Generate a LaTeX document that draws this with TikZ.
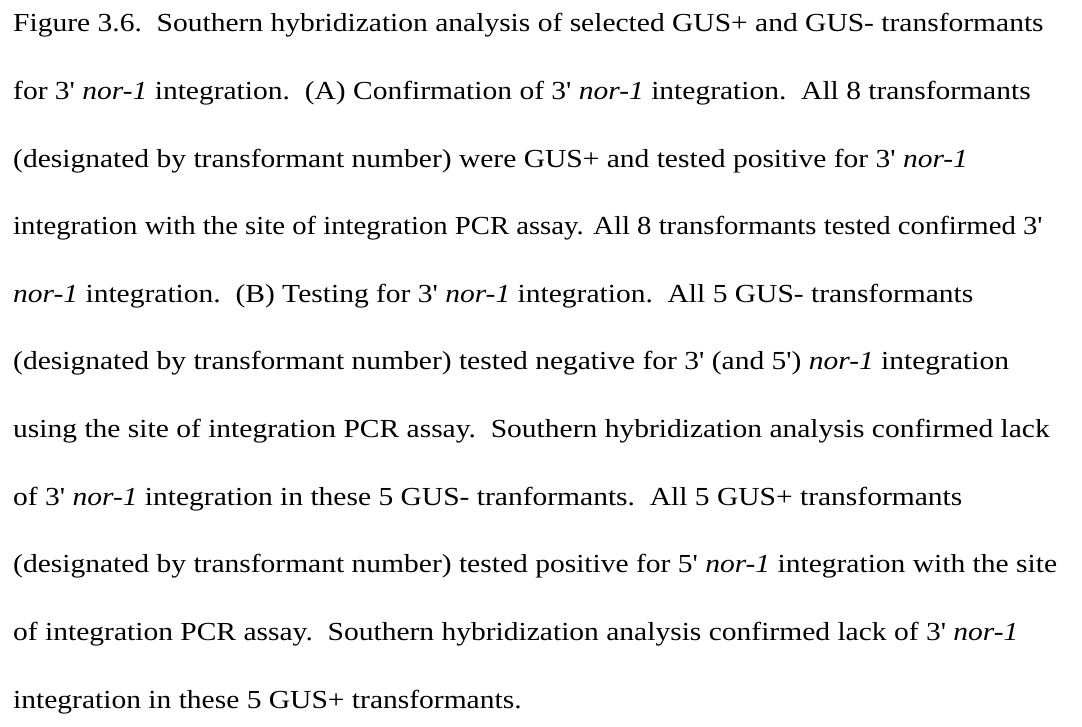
\documentclass[tikz,border=0pt]{standalone}
\usepackage{fontspec}
\setmainfont{Liberation Serif}
\newcommand\ap{\textquotesingle}
\newcommand\nor{\textit{nor-1}}
\newcommand\dsp{\ \ }
\newcommand\wide[2][1.135]{\scalebox{#1}[1]{#2}}
\begin{document}
\begin{tikzpicture}[x=1pt,y=1pt,
  capline/.style={anchor=base west, inner sep=0pt, font=\fontsize{26}{30}\selectfont}]
\useasboundingbox[fill=white] (0,0) rectangle (1082,-727);
\node[capline] (l1)  at (13,-32)    {\wide{Figure 3.6.\dsp Southern hybridization analysis of selected GUS+ and GUS- transformants}};
\node[capline] (l2)  at (13,-99.6)  {\wide{for 3\ap{} \nor{} integration.\dsp (A) Confirmation of 3\ap{} \nor{} integration.\dsp All 8 transformants}};
\node[capline] (l3)  at (13,-167.2) {\wide{(designated by transformant number) were GUS+ and tested positive for 3\ap{} \nor}};
\node[capline] (l4)  at (13,-234.8) {\wide[1.104]{integration with the site of integration PCR assay. All 8 transformants tested confirmed 3\ap}};
\node[capline] (l5)  at (13,-302.4) {\wide{\nor{} integration.\dsp (B) Testing for 3\ap{} \nor{} integration.\dsp All 5 GUS- transformants}};
\node[capline] (l6)  at (13,-370)   {\wide{(designated by transformant number) tested negative for 3\ap{} (and 5\ap) \nor{} integration}};
\node[capline] (l7)  at (13,-437.6) {\wide{using the site of integration PCR assay.\dsp Southern hybridization analysis confirmed lack}};
\node[capline] (l8)  at (13,-505.2) {\wide{of 3\ap{} \nor{} integration in these 5 GUS- tranformants.\dsp All 5 GUS+ transformants}};
\node[capline] (l9)  at (13,-572.8) {\wide{(designated by transformant number) tested positive for 5\ap{} \nor{} integration with the site}};
\node[capline] (l10) at (13,-640.4) {\wide{of integration PCR assay.\dsp Southern hybridization analysis confirmed lack of 3\ap{} \nor}};
\node[capline] (l11) at (13,-708)   {\wide{integration in these 5 GUS+ transformants.}};
\end{tikzpicture}
\end{document}
